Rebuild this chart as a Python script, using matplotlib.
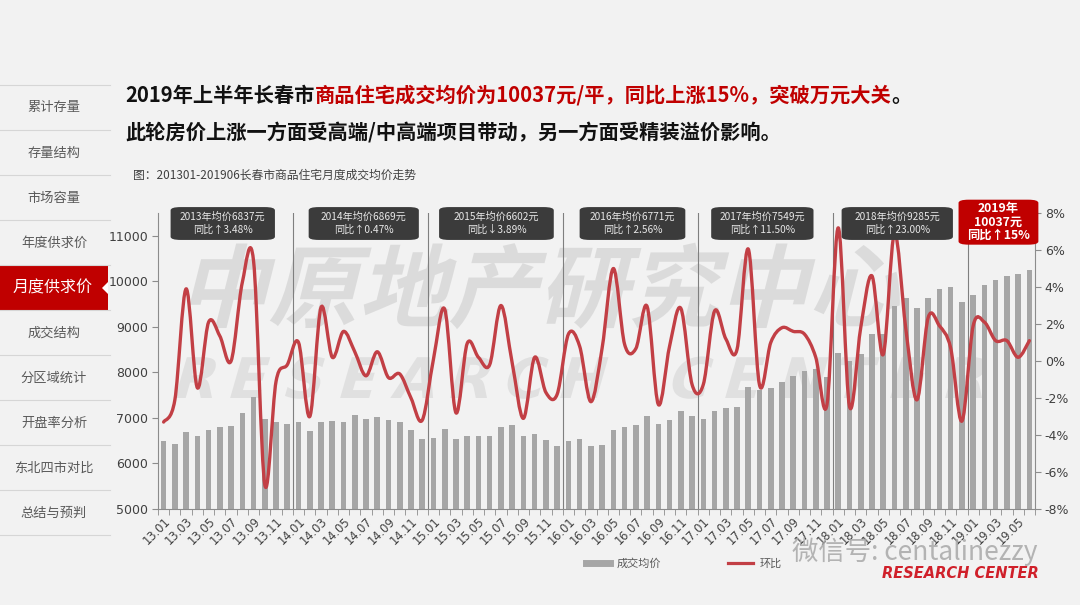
import numpy as np
import matplotlib
matplotlib.use('Agg')
import matplotlib.pyplot as plt
from matplotlib.path import Path
from matplotlib.patches import PathPatch, Rectangle, FancyBboxPatch, Polygon
from matplotlib.textpath import TextPath
from matplotlib.font_manager import FontProperties
from matplotlib.transforms import Affine2D, blended_transform_factory
from matplotlib.lines import Line2D

plt.rcParams['font.family'] = ['Noto Sans CJK SC', 'DejaVu Sans']

# ---------------- data ----------------
months = [f"{y:02d}.{m:02d}" for y in range(13, 20) for m in range(1, 13)][:78]

price_2013 = [6500, 6430, 6695, 6600, 6730, 6805, 6820, 7100, 7465, 6980, 6910, 6870]
price_2014 = [6920, 6710, 6910, 6930, 6920, 7055, 6980, 7020, 6960, 6910, 6745, 6540]
price_2015 = [6563, 6746, 6548, 6607, 6607, 6607, 6790, 6834, 6614, 6643, 6511, 6394]
price_2016 = [6489, 6541, 6394, 6416, 6739, 6790, 6849, 7032, 6871, 6944, 7142, 7040]
price_2017 = [6966, 7142, 7208, 7245, 7685, 7612, 7663, 7795, 7920, 8030, 8080, 7900]
price_2018 = [8434, 8250, 8400, 8837, 8837, 9460, 9644, 9424, 9644, 9842, 9879, 9556]
price_2019 = [9703, 9923, 10026, 10121, 10150, 10253]
price = price_2013 + price_2014 + price_2015 + price_2016 + price_2017 + price_2018 + price_2019

mom_2013 = [-3.3, -2.1, 3.9, -1.45, 2.1, 1.35, 0.0, 4.25, 5.4, -6.7, -1.1, -0.2]
mom_2014 = [1.0, -3.0, 2.9, 0.2, 1.6, 0.5, -0.8, 0.5, -0.9, -0.7, -2.0, -3.2]
mom_2015 = [0.1, 2.8, -2.8, 0.95, 0.2, -0.2, 3.0, -0.1, -3.1, 0.2, -1.7, -1.8]
mom_2016 = [1.45, 0.8, -2.2, 0.7, 5.0, 0.9, 0.67, 2.95, -2.35, 0.8, 2.85, -1.27]
mom_2017 = [-1.27, 2.7, 1.2, 0.63, 6.05, -1.3, 1.0, 1.8, 1.6, 1.45, 0.2, -2.35]
mom_2018 = [7.2, -2.45, 1.8, 4.6, 0.35, 6.9, 1.8, -2.1, 2.35, 1.9, 0.7, -3.25]
mom_2019 = [1.9, 2.1, 1.1, 1.1, 0.2, 1.1]
mom = mom_2013 + mom_2014 + mom_2015 + mom_2016 + mom_2017 + mom_2018 + mom_2019

year_boxes = [
    ("2013年均价6837元", "同比↑3.48%"),
    ("2014年均价6869元", "同比↑0.47%"),
    ("2015年均价6602元", "同比↓3.89%"),
    ("2016年均价6771元", "同比↑2.56%"),
    ("2017年均价7549元", "同比↑11.50%"),
    ("2018年均价9285元", "同比↑23.00%"),
]
box_2019 = "2019年\n10037元\n同比↑15%"

menu_items = ["累计存量", "存量结构", "市场容量", "年度供求价", "月度供求价",
              "成交结构", "分区域统计", "开盘率分析", "东北四市对比", "总结与预判"]
active_item = "月度供求价"

title1_runs = [("2019年上半年长春市", "#111111"),
               ("商品住宅成交均价为10037元/平，同比上涨15%，突破万元大关", "#c00000"),
               ("。", "#111111")]
title2 = "此轮房价上涨一方面受高端/中高端项目带动，另一方面受精装溢价影响。"
subtitle = "图：201301-201906长春市商品住宅月度成交均价走势"

# ---------------- figure ----------------
W, H = 1080, 605
BG = "#f2f2f2"
fig = plt.figure(figsize=(W / 100, H / 100), dpi=100, facecolor=BG)

def px(x, y):
    return x / W, 1 - y / H

L, R, T, B = 158, 1035, 213, 509
ax = fig.add_axes([L / W, 1 - B / H, (R - L) / W, (B - T) / H])
ax.set_facecolor("none")
ax2 = ax.twinx()
ax2.set_facecolor("none")

x = np.arange(len(price))
BAR = "#a6a6a6"
RED = "#c23f45"
ax.bar(x, price, width=0.5, color=BAR, zorder=2)
ax.set_xlim(-0.5, len(price) - 0.5)
ax.set_ylim(5000, 11500)
ax.set_yticks(range(5000, 11001, 1000))
ax2.set_ylim(-8, 8)
ax2.set_yticks(range(-8, 9, 2))
ax2.set_yticklabels([f"{v}%" for v in range(-8, 9, 2)])

# year separators
for k in range(1, 7):
    ax.axvline(12 * k - 0.5, color="#7f7f7f", lw=0.8, zorder=1)

# smooth line (Bezier through the monthly points)
def smooth_path(xs, ys):
    P = np.column_stack([xs, ys]).astype(float)
    n = len(P)
    verts = [P[0]]
    codes = [Path.MOVETO]
    for i in range(n - 1):
        p0 = P[i - 1] if i > 0 else P[i]
        p1, p2 = P[i], P[i + 1]
        p3 = P[i + 2] if i + 2 < n else P[i + 1]
        verts += [p1 + (p2 - p0) / 6, p2 - (p3 - p1) / 6, p2]
        codes += [Path.CURVE4] * 3
    return Path(verts, codes)

ax2.add_patch(PathPatch(smooth_path(x, mom), fill=False, edgecolor=RED, lw=2.4,
                        capstyle="round", joinstyle="round", zorder=5))

# axes styling
for a in (ax, ax2):
    a.spines["top"].set_visible(False)
    for s in ("left", "right", "bottom"):
        a.spines[s].set_color("#8c8c8c")
        a.spines[s].set_linewidth(0.8)
ax.spines["right"].set_visible(False)
ax2.spines["left"].set_visible(False)
ax2.spines["bottom"].set_visible(False)

ax.set_xticks(x[::2])
ax.set_xticklabels(months[::2], rotation=45, ha="right", rotation_mode="anchor",
                   fontsize=8.3, color="#404040", family="DejaVu Sans")
ax.set_xticks(np.arange(-0.5, len(price), 1), minor=True)
ax.tick_params(axis="x", which="major", length=0, pad=4)
ax.tick_params(axis="x", which="minor", length=4, color="#8c8c8c")
ax.tick_params(axis="y", length=4, color="#8c8c8c", labelsize=9, labelcolor="#404040", pad=3)
ax2.tick_params(axis="y", length=4, color="#8c8c8c", labelsize=9, labelcolor="#404040", pad=3)
for lab in ax.get_yticklabels() + ax2.get_yticklabels():
    lab.set_family("DejaVu Sans")

# year boxes
bt = blended_transform_factory(ax.transData, ax.transAxes)
box_spans = [(0.62, 9.9), (12.9, 22.7), (24.5, 34.7), (37.0, 46.4), (48.7, 57.8), (60.3, 70.2)]
for (l1, l2), (x0, x1) in zip(year_boxes, box_spans):
    p = FancyBboxPatch((x0, 0.909), x1 - x0, 0.111, boxstyle="round,pad=0,rounding_size=0.9",
                       transform=bt, facecolor="#3b3b3b", edgecolor="none",
                       clip_on=False, zorder=10, mutation_aspect=0.012)
    ax2.add_patch(p)
    cx = (x0 + x1) / 2
    ax2.text(cx, 0.988, l1, transform=bt, ha="center", va="center", fontsize=7.3,
             color="#e8e8e8", zorder=11, clip_on=False)
    ax2.text(cx, 0.942, l2, transform=bt, ha="center", va="center", fontsize=7.3,
             color="#e8e8e8", zorder=11, clip_on=False)

p = FancyBboxPatch((70.7, 0.893), 7.1, 0.152, boxstyle="round,pad=0,rounding_size=0.9",
                   transform=bt, facecolor="#c00000", edgecolor="none",
                   clip_on=False, zorder=10, mutation_aspect=0.012)
ax2.add_patch(p)
ax2.text(74.25, 0.969, box_2019, transform=bt, ha="center", va="center", fontsize=8.8,
         fontweight="bold", color="white", zorder=11, clip_on=False, linespacing=1.05)

# legend
h1 = Line2D([], [], color=BAR, lw=5)
h2 = Line2D([], [], color=RED, lw=2.3)
leg = ax.legend([h1, h2], ["成交均价", "环比"], loc="center",
                bbox_to_anchor=(0.633, 0.069), bbox_transform=fig.transFigure,
                ncol=2, frameon=False, fontsize=8, handlelength=2.2,
                columnspacing=6, handletextpad=0.6)
for t in leg.get_texts():
    t.set_color("#595959")

# big watermark
def skew_text(s, size, x0, y0, color, alpha, family="Noto Sans CJK SC", weight="bold",
              shear=14, spacing=None, zorder=-1, ec="none"):
    fp = FontProperties(family=family, weight=weight)
    chars = [s] if spacing is None else list(s)
    for i, ch in enumerate(chars):
        if ch == " ":
            continue
        tp = TextPath((0, 0), ch, size=size, prop=fp)
        off = 0 if spacing is None else i * spacing
        tr = Affine2D().skew_deg(shear, 0).translate(x0 + off, H - y0)
        fig.add_artist(PathPatch(tp, facecolor=color, edgecolor=ec, alpha=alpha, lw=0.8,
                                 transform=tr, zorder=zorder))

skew_text("中原地产研究中心", 90, 178, 320, "#bdbdbd", 0.42)
skew_text("RESEARCH CENTER", 56, 170, 398, "#c8c8c8", 0.42, family="DejaVu Sans",
          weight="bold", shear=16, spacing=55)

# wechat / logo overlay
fig.text(*px(792, 552), "微信号: centalinezzy", fontsize=19, color="#a8a8a8",
         va="center", ha="left", alpha=0.85)
fig.text(*px(882, 573), "RESEARCH CENTER", fontsize=10.5, color="#d0202a",
         fontweight="bold", style="italic", family="DejaVu Sans", va="center", ha="left")

# titles
renderer = fig.canvas.get_renderer()
cx = 125
for txt, col in title1_runs:
    t = fig.text(cx / W, 1 - 95 / H, txt, fontsize=14.6, fontweight="bold", color=col,
                 va="center", ha="left")
    cx += t.get_window_extent(renderer).width
fig.text(125 / W, 1 - 133 / H, title2, fontsize=14.6, fontweight="bold", color="#111111",
         va="center", ha="left")
fig.text(133 / W, 1 - 175 / H, subtitle, fontsize=8.5, color="#404040", va="center", ha="left")

# sidebar
sep_y = [85, 130, 175, 220, 265, 310, 355, 400, 445, 490, 535]
for yy in sep_y:
    fig.add_artist(Line2D([0, 110 / W], [1 - yy / H] * 2, color="#d6d6d6", lw=0.8))
for i, item in enumerate(menu_items):
    yc = 108 + 45 * i
    if item == active_item:
        fig.add_artist(Rectangle(px(0, 310), 108 / W, 44 / H, facecolor="#c00000",
                                 edgecolor="none"))
        fig.add_artist(Polygon([px(108, 282), px(108, 294), px(102, 288)], closed=True,
                               facecolor="white", edgecolor="none"))
        fig.text(53 / W, 1 - yc / H, item, fontsize=11.5, color="white", ha="center", va="center")
    else:
        fig.text(54 / W, 1 - yc / H, item, fontsize=9.5, color="#595959", ha="center", va="center")

fig.savefig("out.png", dpi=100, facecolor=BG)
